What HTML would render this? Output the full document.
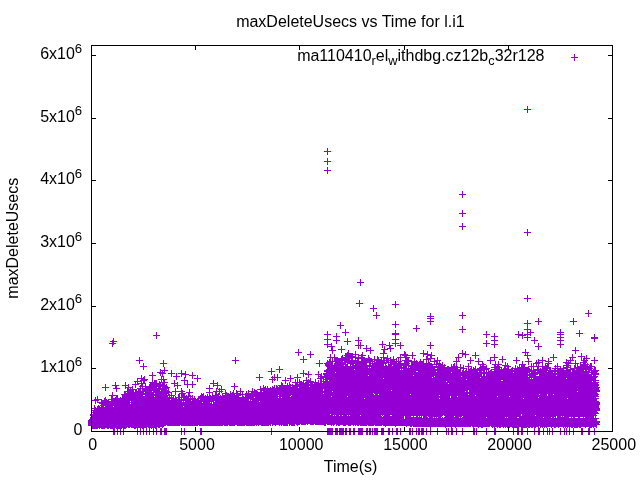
<!DOCTYPE html>
<html lang="en"><head><meta charset="utf-8"><title>maxDeleteUsecs vs Time for l.i1</title>
<style>html,body{margin:0;padding:0;background:#fff;overflow:hidden}svg{display:block}</style></head>
<body>
<svg width="640" height="480" viewBox="0 0 640 480">
<rect width="640" height="480" fill="#fff"/>
<g transform="translate(0,0.5)"><path d="M574 54h1M574 55h1M574 56h1M571 57h7M574 58h1M574 59h1M574 60h1M527 106h1M527 107h1M527 108h1M524 109h7M527 110h1M527 111h1M527 112h1M327 148h1M327 149h1M327 150h1M324 151h7M327 152h1M327 153h1M327 154h1M327 158h1M327 159h1M327 160h1M324 161h7M327 162h1M327 163h1M327 164h1M327 167h1M327 168h1M327 169h1M324 170h7M327 171h1M327 172h1M327 173h1M462 191h1M462 192h1M462 193h1M459 194h7M462 195h1M462 196h1M462 197h1M462 210h1M462 211h1M462 212h1M459 213h7M462 214h1M462 215h1M462 216h1M462 223h1M462 224h1M462 225h1M459 226h7M462 227h1M462 228h1M462 229h1M527 229h1M527 230h1M527 231h1M524 232h7M527 233h1M527 234h1M527 235h1M360 279h1M360 280h1M360 281h1M357 282h7M360 283h1M360 284h1M360 285h1M527 295h1M527 296h1M527 297h1M524 298h7M527 299h1M359 300h1M527 300h1M359 301h1M395 301h1M527 301h1M359 302h1M395 302h1M356 303h7M395 303h1M359 304h1M392 304h7M359 305h1M373 305h1M395 305h1M359 306h1M373 306h1M395 306h1M373 307h1M395 307h1M370 308h7M373 309h1M373 310h1M588 310h1M373 311h1M588 311h1M376 312h1M462 312h1M588 312h1M376 313h1M430 313h1M462 313h1M585 313h7M376 314h1M430 314h1M462 314h1M588 314h1M373 315h7M430 315h1M459 315h7M588 315h1M376 316h1M427 316h7M462 316h1M588 316h1M376 317h1M430 317h1M462 317h1M376 318h1M427 318h7M462 318h1M538 318h1M573 318h1M430 319h1M538 319h1M573 319h1M430 320h1M527 320h1M538 320h1M573 320h1M395 321h1M427 321h7M527 321h1M535 321h7M570 321h7M340 322h1M395 322h1M430 322h1M527 322h1M538 322h1M573 322h1M340 323h1M395 323h1M430 323h1M524 323h7M538 323h1M573 323h1M340 324h1M392 324h7M430 324h1M527 324h1M538 324h1M573 324h1M337 325h7M395 325h1M416 325h1M527 325h1M340 326h1M395 326h1M416 326h1M462 326h1M527 326h1M340 327h1M395 327h1M416 327h1M462 327h1M527 327h1M340 328h1M413 328h7M462 328h1M527 328h1M345 329h1M416 329h1M459 329h7M524 329h7M560 329h1M345 330h1M395 330h1M416 330h1M462 330h1M527 330h1M530 330h1M560 330h1M579 330h1M327 331h1M345 331h1M395 331h1M416 331h1M462 331h1M486 331h1M518 331h1M527 331h1M530 331h1M560 331h1M579 331h1M156 332h1M327 332h1M342 332h7M395 332h1M462 332h1M486 332h1M518 332h1M522 332h1M527 332h7M557 332h7M579 332h1M156 333h1M327 333h1M336 333h1M345 333h1M392 333h7M486 333h1M494 333h1M518 333h1M522 333h1M527 333h1M530 333h1M560 333h1M576 333h7M156 334h1M324 334h7M336 334h1M345 334h1M392 334h7M483 334h7M494 334h1M515 334h8M524 334h7M557 334h7M579 334h1M594 334h1M153 335h7M327 335h1M336 335h1M345 335h1M395 335h1M486 335h1M494 335h1M518 335h8M527 335h1M530 335h1M560 335h1M579 335h1M594 335h1M156 336h1M327 336h1M333 336h7M395 336h1M486 336h1M491 336h7M518 336h1M522 336h1M527 336h1M560 336h1M579 336h1M594 336h1M156 337h1M327 337h1M336 337h1M358 337h1M395 337h1M486 337h1M494 337h1M518 337h1M522 337h1M524 337h7M534 337h1M557 337h7M591 337h7M113 338h1M156 338h1M327 338h1M336 338h1M347 338h1M358 338h1M395 338h1M494 338h1M522 338h1M527 338h1M534 338h1M560 338h1M591 338h7M113 339h1M324 339h7M336 339h1M347 339h1M358 339h1M392 339h7M494 339h1M527 339h1M534 339h1M560 339h1M594 339h1M112 340h2M327 340h1M333 340h7M347 340h1M355 340h7M395 340h1M486 340h1M491 340h7M527 340h1M531 340h7M557 340h7M594 340h1M110 341h7M327 341h1M336 341h1M344 341h7M358 341h1M382 341h1M395 341h1M486 341h1M494 341h1M534 341h1M560 341h1M594 341h1M112 342h2M327 342h1M336 342h1M347 342h1M358 342h1M360 342h1M382 342h1M389 342h1M395 342h1M400 342h1M430 342h1M486 342h1M494 342h1M534 342h1M560 342h1M109 343h7M327 343h1M331 343h1M336 343h1M347 343h1M358 343h1M360 343h1M382 343h1M389 343h1M392 343h7M400 343h1M430 343h1M483 343h7M494 343h1M534 343h1M538 343h1M560 343h1M112 344h2M324 344h8M347 344h1M358 344h1M360 344h1M379 344h7M389 344h1M395 344h1M400 344h1M430 344h1M486 344h1M491 344h7M538 344h1M557 344h7M112 345h1M327 345h1M331 345h1M355 345h9M366 345h1M382 345h1M386 345h7M395 345h1M397 345h7M427 345h7M486 345h1M494 345h1M538 345h1M560 345h1M112 346h1M327 346h8M341 346h1M358 346h1M360 346h1M366 346h1M382 346h1M384 346h1M389 346h2M395 346h1M400 346h1M430 346h1M486 346h1M494 346h1M535 346h7M560 346h1M327 347h1M331 347h2M341 347h1M358 347h1M360 347h1M366 347h1M370 347h1M382 347h1M384 347h1M389 347h2M400 347h1M430 347h1M494 347h1M538 347h1M560 347h1M575 347h1M331 348h2M341 348h1M358 348h1M360 348h1M363 348h8M384 348h1M387 348h7M400 348h1M430 348h1M538 348h1M575 348h1M298 349h1M331 349h2M338 349h7M366 349h1M370 349h1M381 349h7M390 349h1M525 349h1M538 349h1M575 349h1M298 350h1M329 350h7M341 350h1M348 350h1M366 350h8M383 350h2M390 350h1M423 350h1M462 350h1M525 350h1M572 350h7M298 351h1M310 351h1M332 351h1M341 351h1M348 351h1M355 351h1M366 351h1M370 351h1M383 351h2M390 351h1M404 351h1M423 351h1M427 351h1M462 351h1M465 351h1M525 351h1M575 351h1M295 352h7M310 352h1M332 352h1M341 352h1M347 352h2M355 352h1M362 352h1M370 352h1M383 352h2M404 352h2M412 352h1M423 352h1M427 352h1M431 352h1M462 352h1M465 352h1M475 352h1M522 352h7M575 352h1M298 353h1M310 353h1M332 353h1M345 353h8M355 353h1M362 353h1M370 353h1M380 353h7M404 353h2M412 353h1M420 353h8M431 353h1M459 353h7M475 353h1M525 353h1M527 353h1M575 353h1M581 353h1M298 354h1M307 354h7M330 354h1M334 354h1M345 354h14M361 354h2M383 354h1M400 354h8M412 354h1M423 354h9M458 354h1M462 354h7M475 354h1M494 354h1M525 354h1M527 354h1M553 354h1M572 354h1M581 354h1M298 355h1M310 355h1M330 355h1M334 355h1M342 355h1M344 355h9M355 355h1M358 355h8M368 355h1M383 355h1M387 355h1M400 355h1M402 355h14M423 355h1M427 355h8M458 355h1M462 355h1M465 355h1M472 355h7M494 355h1M524 355h7M553 355h1M572 355h1M581 355h1M586 355h1M303 356h1M310 356h1M330 356h1M334 356h1M341 356h2M345 356h11M358 356h1M361 356h2M368 356h1M374 356h1M377 356h1M383 356h1M387 356h1M393 356h1M400 356h1M404 356h3M412 356h1M423 356h1M426 356h2M430 356h2M458 356h1M462 356h1M465 356h1M475 356h1M494 356h1M502 356h1M527 356h1M553 356h1M572 356h1M578 356h7M586 356h1M139 357h1M235 357h1M303 357h1M310 357h1M327 357h11M341 357h24M368 357h2M374 357h1M377 357h2M380 357h8M390 357h1M393 357h1M397 357h13M412 357h1M426 357h2M430 357h2M437 357h1M455 357h7M465 357h1M470 357h1M475 357h1M490 357h8M502 357h1M516 357h1M527 357h1M542 357h1M550 357h7M569 357h7M581 357h1M584 357h1M586 357h1M594 357h1M139 358h1M235 358h1M303 358h1M330 358h1M332 358h1M334 358h19M355 358h17M374 358h1M377 358h2M381 358h1M383 358h8M393 358h1M396 358h1M398 358h1M400 358h1M405 358h4M412 358h1M414 358h1M426 358h9M437 358h1M456 358h1M458 358h1M470 358h1M475 358h1M478 358h1M490 358h1M494 358h1M502 358h1M516 358h1M527 358h2M542 358h1M548 358h1M553 358h1M570 358h1M572 358h1M581 358h1M583 358h7M594 358h1M139 359h1M235 359h1M300 359h7M329 359h2M332 359h1M334 359h16M351 359h2M355 359h1M357 359h2M361 359h21M383 359h2M386 359h3M390 359h7M398 359h1M400 359h1M405 359h4M414 359h1M420 359h1M423 359h8M434 359h1M437 359h1M456 359h1M458 359h1M470 359h1M478 359h1M490 359h1M494 359h1M499 359h7M516 359h1M528 359h1M538 359h1M542 359h1M548 359h1M553 359h1M566 359h1M570 359h1M572 359h1M581 359h1M583 359h2M586 359h1M594 359h1M136 360h7M163 360h1M232 360h7M303 360h1M319 360h1M327 360h1M329 360h2M332 360h1M334 360h25M361 360h12M374 360h21M396 360h1M398 360h1M400 360h1M402 360h10M414 360h1M416 360h1M420 360h1M423 360h1M426 360h1M428 360h1M430 360h1M434 360h7M456 360h1M458 360h1M467 360h7M478 360h1M487 360h8M502 360h1M513 360h7M528 360h1M536 360h1M538 360h8M548 360h1M553 360h1M566 360h8M575 360h1M581 360h7M591 360h7M139 361h1M163 361h1M235 361h1M303 361h1M319 361h1M327 361h16M344 361h31M376 361h9M386 361h3M390 361h12M404 361h14M419 361h5M426 361h1M428 361h1M430 361h8M439 361h1M453 361h7M470 361h1M475 361h8M490 361h1M495 361h1M498 361h1M502 361h1M516 361h1M522 361h1M525 361h7M536 361h1M538 361h1M542 361h1M545 361h7M566 361h1M568 361h1M570 361h1M575 361h1M583 361h4M594 361h1M139 362h1M163 362h1M235 362h1M303 362h1M319 362h1M326 362h7M335 362h36M372 362h1M374 362h23M398 362h3M404 362h5M411 362h13M426 362h1M428 362h2M434 362h1M436 362h2M439 362h1M442 362h1M456 362h1M470 362h1M478 362h1M482 362h1M490 362h1M495 362h1M498 362h1M502 362h1M505 362h1M516 362h1M522 362h1M528 362h1M535 362h8M548 362h1M563 362h8M575 362h1M580 362h7M594 362h1M139 363h1M143 363h1M160 363h7M235 363h1M316 363h7M324 363h9M334 363h12M347 363h20M369 363h18M388 363h1M390 363h20M411 363h21M434 363h1M436 363h5M442 363h1M454 363h1M456 363h1M468 363h1M470 363h1M478 363h1M482 363h2M490 363h1M495 363h1M498 363h1M505 363h1M507 363h1M516 363h1M522 363h1M528 363h1M531 363h1M533 363h7M542 363h1M545 363h7M557 363h1M565 363h14M580 363h1M583 363h3M587 363h1M590 363h2M594 363h1M143 364h1M163 364h1M319 364h1M325 364h8M334 364h14M350 364h4M355 364h12M369 364h2M372 364h12M385 364h1M388 364h21M411 364h32M444 364h1M451 364h1M453 364h2M456 364h1M460 364h1M468 364h1M478 364h8M492 364h10M505 364h1M507 364h1M519 364h7M528 364h1M531 364h1M533 364h1M536 364h1M538 364h1M542 364h1M545 364h1M547 364h2M557 364h1M566 364h3M575 364h1M577 364h1M580 364h9M590 364h2M143 365h1M163 365h1M319 365h1M325 365h19M345 365h3M350 365h1M352 365h32M385 365h2M388 365h4M393 365h40M436 365h1M438 365h8M451 365h1M453 365h2M456 365h1M460 365h1M463 365h1M468 365h1M480 365h1M482 365h2M486 365h1M494 365h2M497 365h2M502 365h7M515 365h1M519 365h1M521 365h4M531 365h1M533 365h1M536 365h1M538 365h1M542 365h1M545 365h4M555 365h1M557 365h1M563 365h8M574 365h2M577 365h1M580 365h8M589 365h3M140 366h7M163 366h1M279 366h1M319 366h1M326 366h76M403 366h4M408 366h37M447 366h2M451 366h7M460 366h1M463 366h1M465 366h7M475 366h1M480 366h7M494 366h6M504 366h7M515 366h1M517 366h1M519 366h1M521 366h4M528 366h21M554 366h7M563 366h1M566 366h3M570 366h1M574 366h2M577 366h18M143 367h1M164 367h1M279 367h1M327 367h41M369 367h1M371 367h36M408 367h1M410 367h54M468 367h1M471 367h1M473 367h1M475 367h1M479 367h8M491 367h11M504 367h2M507 367h2M512 367h1M515 367h1M517 367h12M531 367h1M533 367h1M537 367h2M542 367h9M555 367h1M557 367h1M560 367h1M563 367h8M574 367h18M594 367h2M143 368h1M164 368h1M271 368h1M279 368h1M327 368h108M437 368h21M460 368h7M468 368h1M470 368h2M473 368h3M477 368h13M494 368h6M501 368h1M503 368h6M511 368h19M531 368h1M533 368h1M537 368h2M540 368h1M542 368h9M552 368h16M570 368h23M594 368h2M143 369h1M160 369h1M164 369h1M271 369h1M276 369h7M326 369h28M355 369h45M401 369h1M403 369h58M463 369h1M466 369h1M468 369h21M491 369h22M514 369h18M533 369h15M549 369h2M554 369h2M557 369h7M566 369h9M576 369h16M593 369h3M160 370h8M171 370h1M181 370h1M271 370h1M279 370h1M303 370h1M324 370h137M462 370h2M465 370h2M468 370h17M486 370h1M488 370h1M490 370h2M494 370h77M572 370h12M585 370h2M588 370h11M160 371h1M162 371h1M164 371h1M171 371h1M181 371h1M185 371h1M268 371h7M279 371h1M303 371h1M308 371h1M318 371h1M324 371h92M418 371h18M437 371h24M462 371h16M479 371h3M483 371h2M486 371h1M488 371h48M537 371h10M548 371h23M572 371h18M591 371h7M152 372h1M157 372h8M171 372h1M181 372h1M185 372h1M192 372h1M271 372h1M279 372h1M303 372h1M308 372h1M318 372h1M326 372h9M336 372h115M452 372h61M514 372h16M531 372h22M554 372h2M557 372h40M152 373h1M159 373h7M168 373h7M176 373h1M178 373h8M192 373h1M271 373h1M300 373h7M308 373h1M318 373h1M321 373h1M323 373h205M529 373h60M591 373h8M152 374h1M160 374h1M162 374h1M171 374h1M176 374h1M181 374h8M192 374h1M259 374h1M271 374h1M274 374h1M277 374h1M297 374h1M303 374h1M305 374h7M315 374h7M323 374h159M483 374h2M486 374h52M539 374h60M141 375h1M149 375h7M160 375h1M162 375h1M171 375h1M176 375h1M181 375h1M185 375h1M189 375h7M197 375h1M259 375h1M274 375h1M277 375h1M290 375h1M297 375h1M303 375h1M308 375h1M318 375h1M320 375h2M324 375h44M369 375h44M414 375h68M483 375h2M486 375h50M539 375h17M557 375h35M593 375h3M141 376h1M144 376h1M152 376h1M161 376h3M171 376h1M173 376h7M181 376h1M185 376h1M192 376h1M197 376h1M259 376h1M272 376h1M274 376h1M277 376h1M290 376h1M297 376h1M303 376h1M308 376h1M318 376h116M435 376h26M462 376h66M529 376h69M141 377h1M143 377h2M152 377h1M161 377h1M163 377h1M176 377h1M184 377h2M192 377h1M197 377h1M256 377h7M271 377h10M285 377h1M290 377h1M294 377h7M306 377h1M308 377h1M318 377h1M320 377h112M433 377h47M481 377h116M137 378h8M152 378h1M161 378h1M163 378h1M176 378h1M184 378h1M192 378h1M194 378h7M259 378h1M272 378h1M274 378h1M277 378h1M285 378h1M287 378h7M297 378h1M306 378h1M310 378h1M317 378h7M325 378h58M384 378h146M531 378h1M533 378h33M567 378h29M137 379h1M141 379h7M152 379h1M158 379h9M176 379h1M184 379h1M197 379h1M259 379h1M269 379h7M277 379h1M285 379h1M290 379h1M295 379h1M297 379h1M299 379h1M306 379h1M308 379h1M310 379h1M315 379h1M320 379h2M323 379h143M467 379h129M137 380h1M140 380h7M152 380h1M154 380h3M161 380h1M163 380h2M174 380h1M181 380h7M197 380h1M213 380h1M259 380h1M272 380h1M274 380h1M277 380h1M282 380h7M290 380h1M295 380h1M297 380h1M299 380h1M303 380h8M315 380h1M318 380h1M320 380h2M323 380h1M325 380h3M329 380h172M503 380h96M134 381h8M143 381h2M152 381h1M154 381h3M159 381h1M161 381h1M163 381h2M174 381h1M184 381h1M187 381h1M192 381h1M197 381h1M213 381h1M272 381h1M285 381h1M290 381h1M295 381h1M297 381h1M299 381h3M303 381h1M306 381h8M315 381h1M318 381h1M320 381h126M447 381h145M593 381h3M115 382h1M125 382h1M135 382h1M137 382h1M141 382h1M143 382h2M149 382h8M159 382h9M174 382h1M177 382h1M184 382h1M187 382h1M192 382h1M213 382h1M217 382h1M272 382h1M281 382h1M285 382h1M289 382h1M292 382h12M305 382h14M320 382h2M323 382h276M115 383h1M125 383h1M135 383h1M137 383h9M150 383h11M162 383h3M171 383h7M184 383h1M187 383h1M192 383h1M210 383h8M234 383h1M281 383h2M285 383h1M287 383h1M289 383h1M295 383h3M299 383h10M310 383h3M314 383h134M449 383h149M105 384h1M115 384h1M125 384h1M128 384h1M132 384h7M141 384h2M145 384h1M149 384h16M166 384h1M174 384h1M177 384h1M184 384h12M213 384h1M217 384h1M234 384h1M281 384h2M287 384h1M289 384h2M292 384h1M295 384h304M105 385h1M112 385h7M122 385h7M135 385h1M140 385h3M145 385h1M149 385h18M174 385h7M187 385h1M192 385h1M209 385h1M213 385h8M234 385h1M263 385h1M274 385h1M276 385h1M278 385h321M105 386h1M115 386h2M125 386h1M128 386h1M132 386h1M135 386h1M139 386h29M174 386h1M177 386h1M187 386h1M192 386h1M209 386h1M213 386h1M217 386h1M221 386h1M231 386h7M260 386h1M263 386h1M265 386h1M267 386h1M272 386h1M274 386h1M276 386h2M279 386h12M292 386h17M310 386h288M102 387h7M115 387h2M125 387h8M135 387h1M140 387h1M142 387h1M145 387h12M158 387h3M162 387h8M177 387h1M187 387h1M192 387h1M209 387h1M217 387h1M221 387h1M234 387h1M260 387h1M263 387h3M267 387h1M270 387h1M272 387h3M276 387h22M299 387h301M105 388h1M113 388h7M125 388h1M127 388h2M130 388h1M132 388h1M137 388h32M175 388h1M177 388h1M181 388h1M206 388h7M216 388h2M219 388h1M221 388h1M234 388h1M240 388h1M252 388h1M260 388h339M105 389h1M116 389h1M127 389h10M138 389h3M142 389h25M168 389h1M175 389h1M181 389h1M189 389h1M209 389h1M216 389h1M218 389h7M234 389h1M240 389h1M252 389h1M254 389h1M257 389h66M324 389h275M105 390h1M116 390h1M127 390h7M135 390h2M138 390h3M142 390h18M161 390h8M175 390h1M181 390h2M189 390h1M209 390h1M216 390h1M219 390h1M221 390h1M225 390h1M233 390h1M236 390h1M240 390h1M248 390h1M252 390h1M254 390h3M260 390h63M324 390h67M392 390h76M469 390h131M116 391h1M124 391h10M135 391h17M153 391h17M172 391h13M189 391h1M209 391h1M213 391h10M225 391h1M230 391h1M233 391h1M236 391h8M246 391h1M248 391h10M260 391h2M263 391h69M333 391h132M466 391h2M469 391h108M578 391h22M112 392h1M124 392h2M127 392h17M145 392h27M175 392h1M181 392h2M186 392h7M206 392h7M215 392h2M219 392h1M221 392h1M225 392h2M230 392h1M232 392h2M236 392h2M240 392h1M242 392h1M246 392h1M248 392h1M251 392h346M112 393h1M124 393h30M155 393h14M171 393h1M175 393h1M179 393h7M188 393h2M201 393h1M203 393h1M209 393h1M212 393h1M215 393h2M218 393h2M222 393h7M230 393h11M242 393h1M245 393h78M324 393h49M374 393h224M112 394h1M121 394h46M168 394h2M171 394h1M175 394h1M178 394h2M181 394h4M188 394h2M201 394h3M207 394h1M209 394h1M212 394h1M215 394h5M222 394h1M225 394h10M236 394h138M375 394h3M379 394h31M411 394h57M469 394h70M540 394h7M548 394h5M554 394h45M109 395h9M122 395h21M145 395h30M178 395h2M181 395h4M186 395h1M188 395h3M192 395h1M200 395h4M205 395h1M207 395h1M209 395h2M212 395h7M220 395h1M222 395h19M242 395h1M245 395h33M279 395h12M292 395h147M440 395h35M476 395h71M548 395h50M97 396h1M111 396h2M116 396h2M122 396h32M155 396h13M169 396h1M171 396h1M173 396h1M175 396h1M178 396h2M181 396h12M194 396h1M198 396h41M242 396h2M245 396h45M291 396h40M332 396h15M348 396h102M451 396h6M458 396h39M498 396h11M510 396h89M95 397h1M97 397h1M105 397h1M111 397h2M115 397h3M120 397h1M122 397h52M175 397h14M190 397h1M192 397h1M194 397h1M198 397h56M255 397h23M279 397h2M282 397h168M451 397h87M539 397h57M95 398h1M97 398h1M104 398h2M111 398h66M178 398h2M181 398h1M183 398h13M197 398h167M365 398h74M440 398h83M524 398h43M568 398h31M94 399h8M104 399h3M108 399h62M171 399h28M200 399h49M250 399h347M92 400h7M101 400h8M111 400h80M192 400h57M250 400h1M252 400h345M95 401h1M97 401h1M101 401h29M131 401h51M183 401h1M185 401h29M215 401h44M260 401h339M95 402h1M97 402h105M203 402h7M211 402h1M213 402h387M95 403h1M99 403h31M131 403h81M213 403h387M101 404h499M94 405h1M98 405h1M100 405h499M94 406h1M97 406h3M101 406h3M105 406h8M114 406h69M184 406h415M94 407h2M97 407h502M91 408h509M94 409h506M91 410h509M93 411h504M91 412h507M93 413h506M90 414h240M331 414h190M522 414h74M90 415h243M334 415h1M336 415h3M340 415h2M343 415h4M348 415h1M350 415h10M361 415h20M382 415h1M384 415h6M392 415h51M444 415h77M522 415h13M536 415h61M91 416h291M383 416h21M405 416h6M413 416h1M416 416h2M419 416h1M421 416h1M423 416h4M428 416h14M445 416h9M455 416h7M463 416h93M557 416h4M562 416h1M564 416h30M595 416h1M90 417h314M405 417h17M423 417h5M429 417h4M434 417h1M436 417h1M438 417h3M442 417h1M444 417h15M460 417h1M462 417h24M487 417h18M506 417h1M508 417h9M519 417h24M544 417h7M552 417h2M555 417h1M557 417h12M571 417h1M573 417h2M578 417h2M583 417h1M585 417h9M595 417h1M90 418h314M405 418h194M89 419h508M88 420h509M88 421h512M88 422h512M88 423h511M88 424h183M272 424h16M289 424h6M296 424h4M301 424h5M307 424h1M310 424h4M315 424h11M327 424h8M336 424h264M88 425h78M167 425h13M181 425h17M199 425h24M224 425h4M229 425h6M237 425h8M246 425h9M256 425h1M258 425h1M261 425h8M270 425h1M272 425h1M275 425h1M279 425h1M281 425h1M283 425h5M289 425h1M291 425h4M297 425h1M324 425h2M331 425h1M333 425h1M336 425h1M338 425h2M343 425h3M348 425h3M353 425h1M355 425h1M357 425h2M360 425h7M368 425h6M375 425h7M383 425h214M91 426h73M385 426h1M395 426h1M406 426h1M410 426h2M413 426h58M472 426h18M491 426h48M540 426h57M91 427h36M128 427h2M131 427h16M148 427h9M158 427h2M162 427h1M430 427h1M445 427h1M451 427h1M455 427h1M473 427h1M478 427h1M481 427h2M492 427h1M494 427h1M497 427h1M499 427h2M503 427h1M505 427h1M507 427h1M509 427h1M512 427h7M521 427h6M528 427h2M531 427h2M534 427h2M538 427h1M540 427h1M542 427h1M544 427h1M546 427h1M551 427h1M554 427h2M558 427h1M563 427h1M565 427h1M567 427h1M569 427h1M571 427h2M574 427h4M579 427h2M585 427h1M589 427h3M593 427h1M596 427h1M91 428h7M99 428h1M101 428h4M107 428h2M110 428h5M116 428h6M123 428h3M134 428h2M137 428h1M140 428h1M142 428h2M146 428h1M149 428h1M151 428h1M153 428h1M155 428h2M160 428h2M164 428h3M181 428h1M184 428h1M200 428h2M271 428h1M327 428h6M335 428h3M339 428h5M345 428h2M349 428h2M353 428h2M358 428h5M366 428h2M369 428h2M372 428h1M374 428h4M381 428h3M388 428h2M392 428h1M396 428h2M400 428h1M409 428h2M412 428h1M416 428h1M418 428h2M421 428h3M426 428h1M430 428h1M437 428h1M446 428h1M448 428h1M451 428h2M456 428h1M462 428h1M473 428h2M476 428h1M486 428h1M494 428h2M513 428h1M517 428h2M521 428h2M527 428h1M534 428h1M538 428h2M543 428h1M547 428h1M549 428h1M552 428h1M560 428h1M564 428h1M566 428h1M569 428h1M573 428h1M581 428h2M588 428h2M594 428h1M113 429h2M117 429h1M120 429h1M123 429h1M137 429h1M140 429h1M143 429h1M146 429h1M149 429h1M153 429h1M156 429h1M160 429h2M164 429h3M181 429h1M184 429h1M200 429h2M271 429h1M327 429h6M335 429h3M339 429h5M345 429h2M349 429h2M353 429h2M358 429h5M366 429h2M369 429h2M372 429h1M374 429h4M381 429h3M388 429h2M392 429h1M396 429h2M400 429h1M409 429h2M412 429h1M416 429h1M418 429h2M421 429h3M426 429h1M430 429h1M437 429h1M446 429h1M448 429h1M451 429h2M456 429h1M462 429h1M473 429h2M476 429h1M486 429h1M494 429h2M513 429h1M517 429h2M521 429h2M527 429h1M534 429h1M538 429h2M543 429h1M547 429h1M549 429h1M552 429h1M560 429h1M564 429h1M566 429h1M569 429h1M573 429h1M581 429h2M588 429h2M594 429h1M113 430h2M117 430h1M120 430h1M123 430h1M137 430h1M140 430h1M143 430h1M146 430h1M149 430h1M153 430h1M156 430h1M160 430h2M164 430h3M181 430h1M184 430h1M200 430h2M271 430h1M327 430h6M335 430h3M339 430h5M345 430h2M349 430h2M353 430h2M358 430h5M366 430h2M369 430h2M372 430h1M374 430h4M381 430h3M388 430h2M392 430h1M396 430h2M400 430h1M409 430h2M412 430h1M416 430h1M418 430h2M421 430h3M426 430h1M430 430h1M437 430h1M446 430h1M448 430h1M451 430h2M456 430h1M462 430h1M473 430h2M476 430h1M486 430h1M494 430h2M513 430h1M517 430h2M521 430h2M527 430h1M534 430h1M538 430h2M543 430h1M547 430h1M549 430h1M552 430h1M560 430h1M564 430h1M566 430h1M569 430h1M573 430h1M581 430h2M588 430h2M594 430h1M110 431h17M134 431h36M178 431h10M197 431h8M268 431h7M324 431h80M406 431h35M443 431h23M470 431h10M483 431h7M491 431h8M510 431h46M557 431h20M578 431h20M113 432h2M117 432h1M120 432h1M123 432h1M137 432h1M140 432h1M143 432h1M146 432h1M149 432h1M153 432h1M156 432h1M160 432h2M164 432h3M181 432h1M184 432h1M200 432h2M271 432h1M327 432h6M335 432h3M339 432h5M345 432h2M349 432h2M353 432h2M358 432h5M366 432h2M369 432h2M372 432h1M374 432h4M381 432h3M388 432h2M392 432h1M396 432h2M400 432h1M409 432h2M412 432h1M416 432h1M418 432h2M421 432h3M426 432h1M430 432h1M437 432h1M446 432h1M448 432h1M451 432h2M456 432h1M462 432h1M473 432h2M476 432h1M486 432h1M494 432h2M513 432h1M517 432h2M521 432h2M527 432h1M534 432h1M538 432h2M543 432h1M547 432h1M549 432h1M552 432h1M560 432h1M564 432h1M566 432h1M569 432h1M573 432h1M581 432h2M588 432h2M594 432h1M113 433h2M117 433h1M120 433h1M123 433h1M137 433h1M140 433h1M143 433h1M146 433h1M149 433h1M153 433h1M156 433h1M160 433h2M164 433h3M181 433h1M184 433h1M200 433h2M271 433h1M327 433h6M335 433h3M339 433h5M345 433h2M349 433h2M353 433h2M358 433h5M366 433h2M369 433h2M372 433h1M374 433h4M381 433h3M388 433h2M392 433h1M396 433h2M400 433h1M409 433h2M412 433h1M416 433h1M418 433h2M421 433h3M426 433h1M430 433h1M437 433h1M446 433h1M448 433h1M451 433h2M456 433h1M462 433h1M473 433h2M476 433h1M486 433h1M494 433h2M513 433h1M517 433h2M521 433h2M527 433h1M534 433h1M538 433h2M543 433h1M547 433h1M549 433h1M552 433h1M560 433h1M564 433h1M566 433h1M569 433h1M573 433h1M581 433h2M588 433h2M594 433h1M113 434h2M117 434h1M120 434h1M123 434h1M137 434h1M140 434h1M143 434h1M146 434h1M149 434h1M153 434h1M156 434h1M160 434h2M164 434h3M181 434h1M184 434h1M200 434h2M271 434h1M327 434h6M335 434h3M339 434h5M345 434h2M349 434h2M353 434h2M358 434h5M366 434h2M369 434h2M372 434h1M374 434h4M381 434h3M388 434h2M392 434h1M396 434h2M400 434h1M409 434h2M412 434h1M416 434h1M418 434h2M421 434h3M426 434h1M430 434h1M437 434h1M446 434h1M448 434h1M451 434h2M456 434h1M462 434h1M473 434h2M476 434h1M486 434h1M494 434h2M513 434h1M517 434h2M521 434h2M527 434h1M534 434h1M538 434h2M543 434h1M547 434h1M549 434h1M552 434h1M560 434h1M564 434h1M566 434h1M569 434h1M573 434h1M581 434h2M588 434h2M594 434h1" stroke="#9400d3" stroke-width="1" fill="none" shape-rendering="crispEdges"/></g>
<g stroke="#000" stroke-width="1" fill="none" shape-rendering="crispEdges">
<rect x="91.5" y="45.5" width="521.0" height="386.0"/>
<path d="M91.5 431.5v-4.5M91.5 45.5v4.5M195.5 431.5v-4.5M195.5 45.5v4.5M299.5 431.5v-4.5M299.5 45.5v4.5M404.5 431.5v-4.5M404.5 45.5v4.5M508.5 431.5v-4.5M508.5 45.5v4.5M612.5 431.5v-4.5M612.5 45.5v4.5M91.5 431.5h4.5M612.5 431.5h-4.5M91.5 368.5h4.5M612.5 368.5h-4.5M91.5 306.5h4.5M612.5 306.5h-4.5M91.5 243.5h4.5M612.5 243.5h-4.5M91.5 180.5h4.5M612.5 180.5h-4.5M91.5 118.5h4.5M612.5 118.5h-4.5M91.5 55.5h4.5M612.5 55.5h-4.5"/>
</g>
<g font-family="'Liberation Sans', Arial, sans-serif" font-size="16" fill="#000">
<text x="350.4" y="26.5" text-anchor="middle">maxDeleteUsecs vs Time for l.i1</text>
<text x="92.8" y="449.5" text-anchor="middle">0</text>
<text x="197.0" y="449.5" text-anchor="middle">5000</text>
<text x="301.2" y="449.5" text-anchor="middle">10000</text>
<text x="405.4" y="449.5" text-anchor="middle">15000</text>
<text x="509.6" y="449.5" text-anchor="middle">20000</text>
<text x="613.8" y="449.5" text-anchor="middle">25000</text>
<text x="82.5" y="435.1" text-anchor="end">0</text>
<text x="82.2" y="372.4" text-anchor="end">1x10<tspan font-size="13.2" dy="-6.5">6</tspan></text>
<text x="82.2" y="309.8" text-anchor="end">2x10<tspan font-size="13.2" dy="-6.5">6</tspan></text>
<text x="82.2" y="247.1" text-anchor="end">3x10<tspan font-size="13.2" dy="-6.5">6</tspan></text>
<text x="82.2" y="184.4" text-anchor="end">4x10<tspan font-size="13.2" dy="-6.5">6</tspan></text>
<text x="82.2" y="121.8" text-anchor="end">5x10<tspan font-size="13.2" dy="-6.5">6</tspan></text>
<text x="82.2" y="59.1" text-anchor="end">6x10<tspan font-size="13.2" dy="-6.5">6</tspan></text>
<text x="350.6" y="471.8" text-anchor="middle">Time(s)</text>
<text transform="translate(17.5,238.2) rotate(-90)" text-anchor="middle">maxDeleteUsecs</text>
<text x="544.5" y="60.6" text-anchor="end">ma110410<tspan font-size="12.8" dy="4.8">r</tspan><tspan dy="-4.8">el</tspan><tspan font-size="12.8" dy="4.8">w</tspan><tspan dy="-4.8">ithdbg.cz12b</tspan><tspan font-size="12.8" dy="4.8">c</tspan><tspan dy="-4.8">32r128</tspan></text>
</g>
</svg>
</body></html>
